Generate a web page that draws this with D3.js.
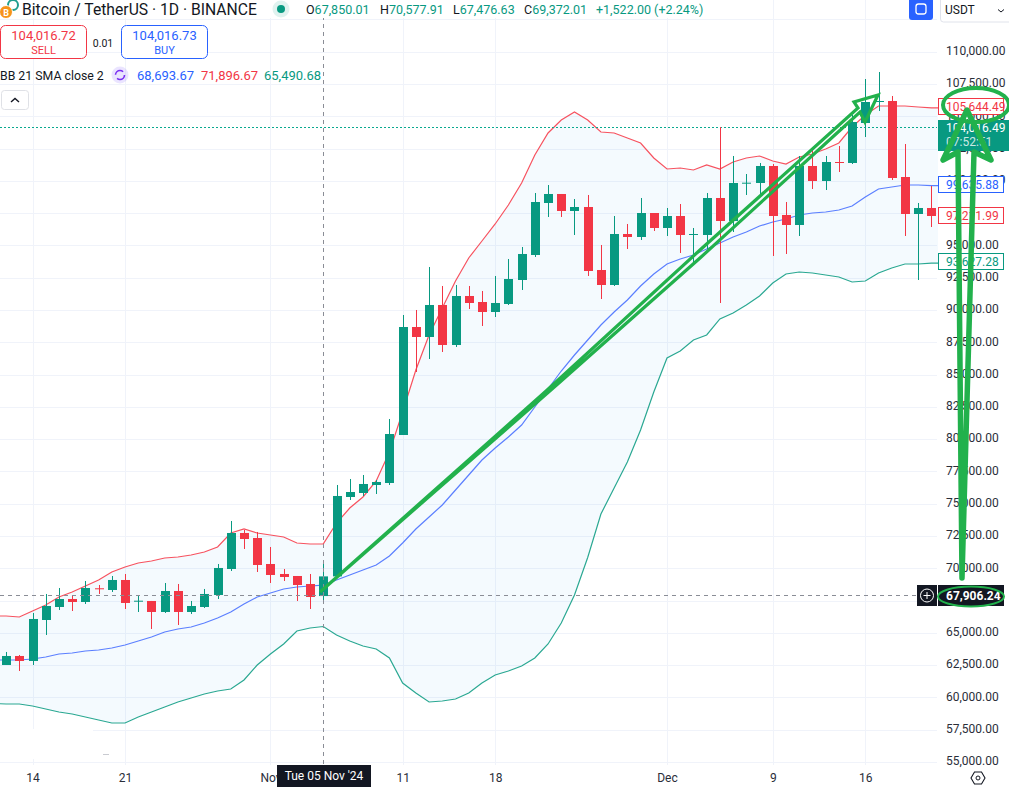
<!DOCTYPE html>
<html>
<head>
<meta charset="utf-8">
<script src="https://d3js.org/d3.v7.min.js"></script>
<style>
html, body { margin: 0; padding: 0; background: #fff; overflow: hidden; }
text { font-family: Roboto, sans-serif; }
</style>
</head>
<body>
<div id="chart"></div>
<script>
// General chart parameters
var svgWidth = 1009;
var svgHeight = 787;
var plotRight = 937;
var plotBottom = 765;
var axisTextX = 946;

// Daily candles, 12 Oct 2024 to 21 Dec 2024
var opens = [62512, 63209, 62822, 65996, 67003, 67622, 67390, 68451, 68319, 69094, 67444, 67468, 66616, 68242, 66616, 67003, 67932, 69945, 72733, 72346,
    70332, 69558, 69403, 68784, 67850.01, 69372, 75520, 75830, 76449, 76604, 80321, 88683, 87909, 90387, 87290, 91084, 90619, 89845, 90464, 92323, 94258, 98285, 98982, 97665, 97975, 93097, 91935, 95884, 95652, 97510,
    96349, 97278, 95830, 95807, 98672, 96891, 99810, 99833, 101150, 97356, 96581, 101150, 99988, 101459, 101382, 104479, 106105, 106183, 100298, 97433, 97898];
var highs = [63519, 63286, 66538, 68010, 68474, 67855, 69016, 68706, 69403, 69558, 67932, 67468, 68861, 68784, 67468, 68397, 70332, 73662, 72965, 72810,
    71649, 69945, 69403, 69558, 70577.91, 76449, 76914, 77224, 76837, 81560, 89613, 90000, 93329, 91858, 91935, 91858, 91471, 92632, 93949, 94878, 99059, 99678, 98982, 98594, 98904, 95033, 97278, 96659, 98672, 97510,
    97898, 98207, 96349, 99059, 104169, 101924, 100530, 101382, 101304, 98362, 101924, 102388, 101924, 102698, 105099, 107886, 108428, 106570, 102853, 98285, 99601];
var lows = [62512, 62047, 62512, 64835, 66771, 66692, 67235, 68010, 68164, 66848, 66616, 65300, 66538, 65609, 66461, 66926, 67622, 69790, 71494, 69713,
    68861, 69016, 67468, 66848, 67476.63, 69326, 75288, 75598, 75753, 76449, 80321, 85199, 86206, 86748, 87135, 90077, 88761, 89458, 90387, 91548, 94103, 97201, 97201, 95807, 92632, 90851, 91858, 94723, 95420, 96117,
    95730, 94413, 93639, 94723, 90542, 96039, 98904, 98904, 94181, 94336, 95730, 99369, 99291, 100685, 101304, 103395, 105408, 100066, 95730, 92323, 96426];
var closes = [63209, 62822, 66074, 67080, 67622, 67390, 68474, 68397, 69094, 67313, 67490, 66616, 68242, 66616, 67080, 68010, 70023, 72733, 72268, 70255,
    69481, 69326, 68706, 67777, 69372.01, 75598, 75907, 76527, 76682, 80398, 88683, 87909, 90387, 87290, 91084, 90542, 89845, 90542, 92400, 94336, 98362, 98982, 97665, 97975, 93019, 91935, 95884, 95652, 97510, 96349,
    97278, 95807, 95884, 98672, 96891, 99833, 99857, 101150, 97278, 96581, 101150, 99988, 101459, 101405, 104557, 106105, 106183, 100220, 97433, 97898, 97278];

// Bollinger bands, 11 Oct to 22 Dec: they run past the candles on both edges
var bbUpper = [66306, 66306, 66229, 66692, 67158, 67777, 68164, 68629, 69094, 69713, 70100, 70410, 70565, 70797, 70874, 71029, 71262, 71649, 72733, 73043, 72733,
    72578, 72423, 71959, 71881, 71896.67, 73507, 74669, 75520, 76759, 79005, 82102, 85354, 88064, 90155, 92245, 94026, 95342, 96659, 98130, 99833, 102002, 103705, 104711, 105331, 104711, 103782, 103705, 103318, 102931, 101769,
    100917, 100995, 100840, 101227, 100917, 101459, 101769, 101924, 101537, 101304, 101847, 102079, 102466, 102931, 104169, 105098, 105795, 105795, 105795, 105718, 105644.49, 105644.49];
var bbBasis = [62899, 62899, 62899, 62977, 63131, 63364, 63441, 63596, 63673, 63828, 64061, 64370, 64680, 65067, 65300, 65454, 65764, 66151, 66616, 67235, 67777,
    68087, 68397, 68552, 68629, 68693.67, 69094, 69481, 69868, 70255, 70952, 71959, 73043, 73972, 74901, 76062, 77224, 78385, 79314, 80166, 81095, 82489, 83883, 85276, 86515, 87677, 88838, 89845, 90774, 91858, 92787,
    93561, 93948, 94258, 94723, 95187, 95652, 96039, 96504, 96814, 97046, 97356, 97510, 97588, 97743, 98052, 98749, 99369, 99524, 99678, 99678, 99635.88, 99635.88];
var bbLower = [59530, 59492, 59492, 59337, 59105, 58873, 58718, 58486, 58253, 58021, 58021, 58486, 58873, 59260, 59647, 59957, 60267, 60499, 60654, 61351, 62512,
    63364, 64138, 65145, 65377, 65490.68, 64835, 64370, 63983, 63751, 63054, 61118, 60344, 59647, 59725, 59879, 60344, 61118, 61738, 62047, 62435, 63054, 64138, 65764, 67932, 70836, 74204, 76217, 78230, 80708, 83650,
    86283, 86825, 87677, 88064, 89303, 89767, 90387, 91084, 92090, 92787, 92942, 92865, 92710, 92555, 92168, 92245, 92865, 93252, 93561, 93561, 93627.28, 93627.28];

// Axis ticks
var priceTicks = [55000, 57500, 60000, 62500, 65000, 67500, 70000, 72500, 75000, 77500, 80000, 82500, 85000, 87500, 90000, 92500, 95000, 97500, 100000, 102500, 105000, 107500, 110000];
var dateTicks = ["2024-10-14", "2024-10-21", "2024-11-01", "2024-11-11", "2024-11-18", "2024-12-01", "2024-12-09", "2024-12-16"];
var dateTickLabels = ["14", "21", "Nov", "11", "18", "Dec", "9", "16"];

// Readings shown on the chart
var crossDate = "2024-11-05";
var crossDateLabel = "Tue 05 Nov '24";
var crossPrice = 67906.24;
var lastPrice = 104016.49;
var countdown = "07:52:51";
var lastLabels = [105644.49, 99635.88, 97211.99, 93627.28];
var ohlcLabels = ["67,850.01", "70,577.91", "67,476.63", "69,372.01"];
var changeLabel = "+1,522.00 (+2.24%)";
var bbLabels = ["68,693.67", "71,896.67", "65,490.68"];

var UP = "#089981";
var DOWN = "#f23645";
var BLUE = "#2962ff";
var PAINT = "#22b14c";
var GRID = "#f0f3fa";
var TEXT = "#131722";

var days = d3.utcDay.range(new Date(Date.UTC(2024, 9, 12)), new Date(Date.UTC(2024, 11, 22)));
var bandDays = d3.utcDay.range(new Date(Date.UTC(2024, 9, 11)), new Date(Date.UTC(2024, 11, 23)));

var x = d3.scaleUtc()
    .domain([new Date(Date.UTC(2024, 9, 14)), new Date(Date.UTC(2024, 11, 16))])
    .range([32.5, 865.3]);

var y = d3.scaleLinear()
    .domain([55000, 110000])
    .range([762, 51.7]);

var svg = d3.select("#chart")
    .append("svg")
    .attr("width", svgWidth)
    .attr("height", svgHeight)
    .style("display", "block");

// Grid
var gridPrices = priceTicks.concat([112500]);
svg.append("g").selectAll("line")
    .data(gridPrices)
    .enter()
    .append("line")
    .attr("x1", 0)
    .attr("x2", plotRight)
    .attr("y1", d => Math.round(y(d)) + 0.5)
    .attr("y2", d => Math.round(y(d)) + 0.5)
    .attr("stroke", GRID);

svg.append("g").selectAll("line")
    .data(dateTicks)
    .enter()
    .append("line")
    .attr("x1", d => Math.round(x(new Date(d))) + 0.5)
    .attr("x2", d => Math.round(x(new Date(d))) + 0.5)
    .attr("y1", 0)
    .attr("y2", plotBottom)
    .attr("stroke", GRID);

// Gap left in the grid by the removed logo
svg.append("rect")
    .attr("x", 0).attr("y", 729).attr("width", 93).attr("height", 30)
    .attr("fill", "#fff");
svg.append("line")
    .attr("x1", 103).attr("x2", 109).attr("y1", 754.5).attr("y2", 754.5)
    .attr("stroke", "#c9cbd1");

// Bollinger fill and lines
var area = d3.area()
    .x((d, i) => x(bandDays[i]))
    .y0((d, i) => y(bbLower[i]))
    .y1(d => y(d));

svg.append("path")
    .attr("d", area(bbUpper))
    .attr("fill", "#2196f3")
    .attr("fill-opacity", 0.05);

var line = d3.line()
    .x((d, i) => x(bandDays[i]))
    .y(d => y(d));

[[bbUpper, "#f7525f"], [bbBasis, "#5b7fff"], [bbLower, "#2aa892"]].forEach(function (band) {
    svg.append("path")
        .attr("d", line(band[0]))
        .attr("fill", "none")
        .attr("stroke", band[1])
        .attr("stroke-width", 1.2);
});

// Last price dotted line
svg.append("line")
    .attr("x1", 0)
    .attr("x2", plotRight)
    .attr("y1", Math.floor(y(lastPrice)) - 0.5)
    .attr("y2", Math.floor(y(lastPrice)) - 0.5)
    .attr("stroke", "#0aa98f")
    .attr("stroke-dasharray", "2,2");

// Candles
var candles = opens.map(function (o, i) {
    return { date: days[i], open: o, high: highs[i], low: lows[i], close: closes[i] };
});

var candleGroup = svg.append("g");

candleGroup.selectAll("line")
    .data(candles)
    .enter()
    .append("line")
    .attr("x1", d => Math.round(x(d.date)) + 0.5)
    .attr("x2", d => Math.round(x(d.date)) + 0.5)
    .attr("y1", d => y(d.high))
    .attr("y2", d => y(d.low))
    .attr("stroke", d => d.close >= d.open ? UP : DOWN);

candleGroup.selectAll("rect")
    .data(candles)
    .enter()
    .append("rect")
    .attr("x", d => Math.round(x(d.date)) - 4)
    .attr("width", 9)
    .attr("y", d => y(Math.max(d.open, d.close)))
    .attr("height", d => Math.max(1, Math.abs(y(d.open) - y(d.close))))
    .attr("fill", d => d.close >= d.open ? UP : DOWN);

// Crosshair
var crossX = Math.round(x(new Date(crossDate))) + 0.5;
var crossY = Math.round(y(crossPrice)) + 0.5;

svg.append("line")
    .attr("x1", crossX).attr("x2", crossX)
    .attr("y1", 0).attr("y2", plotBottom)
    .attr("stroke", "#8a8d96")
    .attr("stroke-dasharray", "4,4");

svg.append("line")
    .attr("x1", 0).attr("x2", 917)
    .attr("y1", crossY).attr("y2", crossY)
    .attr("stroke", "#8a8d96")
    .attr("stroke-dasharray", "4,4");

// Panels behind the axes
svg.append("rect")
    .attr("x", plotRight + 1).attr("y", 0)
    .attr("width", svgWidth - plotRight).attr("height", svgHeight)
    .attr("fill", "#fff");
svg.append("rect")
    .attr("x", 0).attr("y", plotBottom)
    .attr("width", svgWidth).attr("height", svgHeight - plotBottom)
    .attr("fill", "#fff");

// Price axis, labels start at the same left edge
var yAxis = d3.axisRight(y)
    .tickValues(priceTicks)
    .tickSize(0)
    .tickPadding(0)
    .tickFormat(d3.format(",.2f"));

var yAxisGroup = svg.append("g")
    .attr("transform", `translate(${axisTextX}, -1)`)
    .call(yAxis);
yAxisGroup.select(".domain").remove();
yAxisGroup.selectAll("text")
    .attr("text-anchor", "start")
    .attr("fill", "#2a2e39")
    .attr("font-size", 12)
    .attr("font-family", "Roboto, sans-serif");

// Time axis
var xAxis = d3.axisBottom(x)
    .tickValues(dateTicks.map(d => new Date(d)))
    .tickSize(0)
    .tickPadding(0)
    .tickFormat((d, i) => dateTickLabels[i]);

var xAxisGroup = svg.append("g")
    .attr("transform", "translate(0, 773)")
    .call(xAxis);
xAxisGroup.select(".domain").remove();
xAxisGroup.selectAll("text")
    .attr("fill", "#2a2e39")
    .attr("font-size", 12)
    .attr("font-family", "Roboto, sans-serif");

// Settings icon
svg.append("path")
    .attr("d", "M971,778 L974.5,772 L981.5,772 L985,778 L981.5,784 L974.5,784 Z")
    .attr("fill", "none").attr("stroke", TEXT).attr("stroke-width", 1.1);
svg.append("circle")
    .attr("cx", 978).attr("cy", 778).attr("r", 2)
    .attr("fill", "none").attr("stroke", TEXT);

// Crosshair date label
svg.append("rect")
    .attr("x", 277).attr("y", 765).attr("width", 94).attr("height", 22)
    .attr("fill", TEXT);
svg.append("text")
    .attr("x", 324).attr("y", 780)
    .attr("text-anchor", "middle")
    .attr("fill", "#fff").attr("font-size", 12)
    .text(crossDateLabel);

// Crosshair price label
svg.append("rect")
    .attr("x", 917).attr("y", 585).attr("width", 20).attr("height", 21)
    .attr("fill", TEXT);
svg.append("circle")
    .attr("cx", 927).attr("cy", 595.5).attr("r", 6.5)
    .attr("fill", "none").attr("stroke", "#fff");
svg.append("path")
    .attr("d", "M923.5,595.5 H930.5 M927,592 V599")
    .attr("stroke", "#fff");
svg.append("rect")
    .attr("x", 938).attr("y", 585).attr("width", 66).attr("height", 21)
    .attr("fill", TEXT);
svg.append("text")
    .attr("x", axisTextX).attr("y", 599.5)
    .attr("fill", "#fff").attr("font-size", 12).attr("font-weight", 700)
    .text(d3.format(",.2f")(crossPrice));

// Last value labels
var labelColors = [DOWN, BLUE, DOWN, UP];
lastLabels.forEach(function (value, i) {
    var yPos = y(value);
    svg.append("rect")
        .attr("x", 938.5).attr("y", Math.round(yPos) - 9.5)
        .attr("width", 65).attr("height", 16)
        .attr("fill", "#fff")
        .attr("stroke", labelColors[i]);
    svg.append("text")
        .attr("x", axisTextX).attr("y", Math.round(yPos) + 3)
        .attr("fill", labelColors[i]).attr("font-size", 12)
        .text(d3.format(",.2f")(value));
});

// Last price label with countdown
svg.append("rect")
    .attr("x", 938).attr("y", 120).attr("width", 71).attr("height", 31)
    .attr("fill", UP);
svg.append("text")
    .attr("x", axisTextX).attr("y", 132)
    .attr("fill", "#fff").attr("font-size", 12)
    .text(d3.format(",.2f")(lastPrice));
svg.append("text")
    .attr("x", axisTextX).attr("y", 146)
    .attr("fill", "#fff").attr("fill-opacity", 0.8).attr("font-size", 12)
    .text(countdown);

// Header
svg.append("rect")
    .attr("x", 0).attr("y", 0).attr("width", 710).attr("height", 18)
    .attr("fill", "#fff");

svg.append("circle")
    .attr("cx", 13).attr("cy", 5).attr("r", 5)
    .attr("fill", "#fff").attr("stroke", "#1f9e8f").attr("stroke-width", 2);
svg.append("circle")
    .attr("cx", 6).attr("cy", 12).attr("r", 6.5)
    .attr("fill", "#f7931a").attr("stroke", "#fff");
svg.append("text")
    .attr("x", 6).attr("y", 15.5)
    .attr("text-anchor", "middle")
    .attr("fill", "#fff").attr("font-size", 9).attr("font-weight", 700)
    .text("B");

svg.append("text")
    .attr("x", 22).attr("y", 15)
    .attr("fill", TEXT).attr("font-size", 15.7)
    .text("Bitcoin / TetherUS · 1D · BINANCE");

svg.append("circle")
    .attr("cx", 281).attr("cy", 9).attr("r", 8.5)
    .attr("fill", UP).attr("fill-opacity", 0.13);
svg.append("circle")
    .attr("cx", 281).attr("cy", 9).attr("r", 4)
    .attr("fill", UP);

var headerItems = [["O", 306], ["H", 380], ["L", 453], ["C", 524]];
headerItems.forEach(function (item, i) {
    var label = svg.append("text")
        .attr("x", item[1]).attr("y", 14)
        .attr("font-size", 12.5)
        .attr("fill", TEXT);
    label.append("tspan").text(item[0]);
    label.append("tspan").attr("fill", UP).text(ohlcLabels[i]);
});
svg.append("text")
    .attr("x", 596).attr("y", 14)
    .attr("fill", UP).attr("font-size", 12.5)
    .text(changeLabel);

// Buy and sell boxes
[["104,016.72", "SELL", 0.5, DOWN], ["104,016.73", "BUY", 121.5, BLUE]].forEach(function (box) {
    svg.append("rect")
        .attr("x", box[2]).attr("y", 25.5)
        .attr("width", 86).attr("height", 33).attr("rx", 5)
        .attr("fill", "#fff").attr("stroke", box[3]);
    svg.append("text")
        .attr("x", box[2] + 43).attr("y", 40)
        .attr("text-anchor", "middle")
        .attr("fill", box[3]).attr("font-size", 13)
        .text(box[0]);
    svg.append("text")
        .attr("x", box[2] + 43).attr("y", 54)
        .attr("text-anchor", "middle")
        .attr("fill", box[3]).attr("font-size", 11)
        .text(box[1]);
});
svg.append("text")
    .attr("x", 103).attr("y", 46.5)
    .attr("text-anchor", "middle")
    .attr("fill", TEXT).attr("font-size", 10.5)
    .text("0.01");

// Indicator legend
svg.append("text")
    .attr("x", 0).attr("y", 80)
    .attr("fill", TEXT).attr("font-size", 12.3)
    .text("BB 21 SMA close 2");
svg.append("circle")
    .attr("cx", 120).attr("cy", 75).attr("r", 8.5)
    .attr("fill", "#7e57ff").attr("fill-opacity", 0.16);
svg.append("circle")
    .attr("cx", 120).attr("cy", 75).attr("r", 4.5)
    .attr("fill", "none").attr("stroke", "#7b2ff2").attr("stroke-width", 1.6)
    .attr("stroke-dasharray", "10,4");
[[137, BLUE], [201, DOWN], [264, UP]].forEach(function (item, i) {
    svg.append("text")
        .attr("x", item[0]).attr("y", 80)
        .attr("fill", item[1]).attr("font-size", 13)
        .text(bbLabels[i]);
});

// Collapse button
svg.append("rect")
    .attr("x", 1.5).attr("y", 90.5).attr("width", 27).attr("height", 19).attr("rx", 3)
    .attr("fill", "#fff").attr("stroke", "#dfe1e6");
svg.append("path")
    .attr("d", "M11,102 L15,98.5 L19,102")
    .attr("fill", "none").attr("stroke", TEXT).attr("stroke-width", 1.4);

// Top right controls
svg.append("rect")
    .attr("x", 909).attr("y", -4).attr("width", 24).attr("height", 24).attr("rx", 3)
    .attr("fill", BLUE);
svg.append("rect")
    .attr("x", 916).attr("y", 4).attr("width", 10).attr("height", 10).attr("rx", 2.5)
    .attr("fill", "none").attr("stroke", "#fff").attr("stroke-width", 1.3);
svg.append("rect")
    .attr("x", 940.5).attr("y", -4).attr("width", 72).attr("height", 26).attr("rx", 3)
    .attr("fill", "#fff").attr("stroke", "#e0e3eb");
svg.append("text")
    .attr("x", 945).attr("y", 14)
    .attr("fill", TEXT).attr("font-size", 12)
    .text("USDT");
svg.append("path")
    .attr("d", "M998,9.5 L1001,12 L1004,9.5")
    .attr("fill", "none").attr("stroke", TEXT);

// Hand drawn annotations
svg.append("path")
    .attr("d", "M320,592 L545,392 L700,250 L858,108 L854,102 L878,95 L865,122 L860,112 L848,123 L700,258 L560,382 Z")
    .attr("fill", "none").attr("stroke", PAINT).attr("stroke-width", 3.2).attr("stroke-linejoin", "miter");
svg.append("path")
    .attr("d", "M962,578 L958,152 L943,160 L967,110 L991,160 L974,152 Z")
    .attr("fill", "none").attr("stroke", PAINT).attr("stroke-width", 5.5).attr("stroke-linejoin", "round");
svg.append("ellipse")
    .attr("cx", 976).attr("cy", 105).attr("rx", 33).attr("ry", 17)
    .attr("fill", "none").attr("stroke", PAINT).attr("stroke-width", 4);
svg.append("ellipse")
    .attr("cx", 971).attr("cy", 596.5).attr("rx", 33).attr("ry", 10)
    .attr("fill", "none").attr("stroke", PAINT).attr("stroke-width", 2);
</script>
</body>
</html>
